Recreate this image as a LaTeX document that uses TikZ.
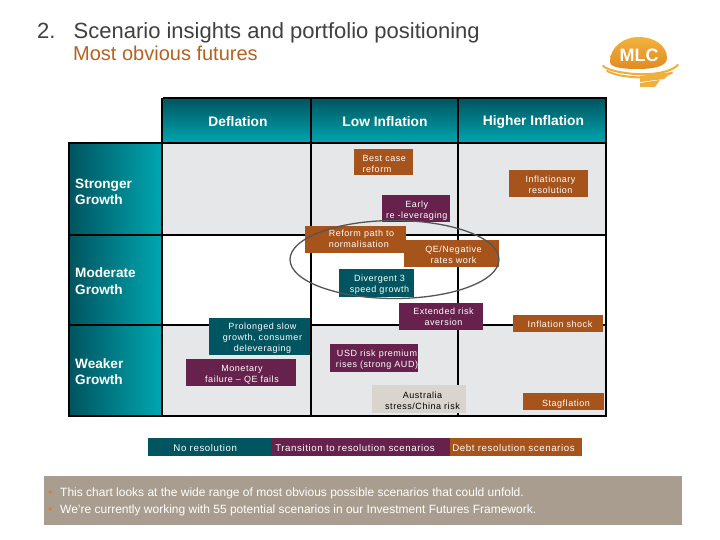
\documentclass[tikz,border=0pt]{standalone}
\usepackage{fontspec}
\setmainfont{Liberation Sans}
\newfontfamily\boxfont[LetterSpace=6]{Liberation Sans}
\usetikzlibrary{calc,shapes.geometric}
\definecolor{brownbox}{HTML}{A6541B}
\definecolor{plumbox}{HTML}{66214D}
\definecolor{tealbox}{HTML}{005560}
\definecolor{greybox}{HTML}{D9D5CE}
\definecolor{cellgrey}{HTML}{E6E7E8}
\definecolor{foot}{HTML}{A89D8E}
\definecolor{tealdark}{HTML}{00545F}
\definecolor{teallight}{HTML}{00A7B0}
\definecolor{titlecol}{HTML}{404040}
\definecolor{subcol}{HTML}{B5621F}
\definecolor{bulcol}{HTML}{E87722}
\definecolor{ringcol}{HTML}{555555}
\definecolor{logotop}{HTML}{F2B33D}
\definecolor{logobot}{HTML}{E08A22}
\definecolor{logoband}{HTML}{F0AE3C}
\tikzset{
  x=1pt,y=-1pt,
  cellbox/.style={inner sep=0pt,outer sep=0pt},
  scen/.style={inner sep=0pt,outer sep=0pt,text=white,align=center,font=\boxfont\fontsize{9}{11}\selectfont},
  legendbox/.style={scen,font=\boxfont\fontsize{9.7}{11}\selectfont},
  brown/.style={scen,fill=brownbox},
  plum/.style={scen,fill=plumbox},
  tealb/.style={scen,fill=tealbox},
  greyb/.style={scen,fill=greybox,text=black},
  headtext/.style={inner sep=0pt,text=white,font=\bfseries\fontsize{13.8}{16}\selectfont},
  rowtext/.style={inner sep=0pt,text=white,align=left,anchor=west,font=\bfseries\fontsize{13.6}{16.5}\selectfont},
  grid line/.style={black,line width=2pt},
  logoswirl/.style={draw=logoband,line cap=round},
}
% name, x1, y1, x2, y2, style, text
\newcommand{\rbox}[7]{%
  \pgfmathsetmacro{\bw}{#4-#2}\pgfmathsetmacro{\bh}{#5-#3}%
  \pgfmathsetmacro{\bx}{(#4+#2)/2}\pgfmathsetmacro{\by}{(#5+#3)/2}%
  \node[#6,minimum width=\bw pt,minimum height=\bh pt] (#1) at (\bx,\by) {#7};}
% name, x1, y1, x2, y2, style, dx, dy, text
\newcommand{\scbox}[9]{%
  \rbox{#1}{#2}{#3}{#4}{#5}{#6}{}%
  \node[#6,fill=none] (#1-text) at ($(#1.center)+(#7,#8)$) {#9};}
\begin{document}
\begin{tikzpicture}
\useasboundingbox (0,0) rectangle (720,540);
\fill[white] (0,0) rectangle (720,540);
% titles
\node[anchor=base west,inner sep=0pt,text=titlecol,font=\fontsize{22}{24}\selectfont] (num) at (37,39) {2.};
\node[anchor=base west,inner sep=0pt,text=titlecol,font=\fontsize{22}{24}\selectfont] (title) at (73.5,39) {Scenario insights and portfolio positioning};
\node[anchor=base west,inner sep=0pt,text=subcol,font=\fontsize{20}{22}\selectfont] (sub) at (73,61) {Most obvious futures};
% logo
\draw[logoswirl,line width=2pt] (603,66) .. controls (612,74) and (662,80) .. (678,65);
\draw[logoswirl,line width=2pt] (607,71) .. controls (620,78) and (650,80) .. (672,73);
\fill[logoband] (640,76) -- (672,72) -- (664,79) -- (640,82) -- cycle;
\fill[logoband] (640,83) -- (660,80) -- (655,87) -- (640,87) -- cycle;
\shade[top color=logotop,bottom color=logobot] (610,62) .. controls (610,46) and (625,37) .. (638,37) .. controls (655,37) and (667,46) .. (667,58) .. controls (667,66) and (655,69) .. (638,69) .. controls (625,69) and (610,68) .. (610,62) -- cycle;
\node[inner sep=0pt,text=white,font=\bfseries\fontsize{18}{18}\selectfont] (logo) at (639,55) {MLC};
% grid cells
\rbox{h1}{163}{98}{311}{143.5}{cellbox,top color=tealdark,bottom color=teallight}{}
\rbox{h2}{311}{98}{458}{143.5}{cellbox,top color=tealdark,bottom color=teallight}{}
\rbox{h3}{458}{98}{606}{143.5}{cellbox,top color=tealdark,bottom color=teallight}{}
\rbox{r1}{69}{143.5}{162}{234.5}{cellbox,left color=tealdark,right color=teallight}{}
\rbox{r2}{69}{234.5}{162}{325}{cellbox,left color=tealdark,right color=teallight}{}
\rbox{r3}{69}{325}{162}{415.5}{cellbox,left color=tealdark,right color=teallight}{}
\rbox{c11}{162}{143.5}{310}{234.5}{cellbox,fill=cellgrey}{}
\rbox{c12}{310}{143.5}{458}{234.5}{cellbox,fill=cellgrey}{}
\rbox{c13}{458}{143.5}{606}{234.5}{cellbox,fill=cellgrey}{}
\rbox{c21}{162}{234.5}{310}{325}{cellbox,fill=white}{}
\rbox{c22}{310}{234.5}{458}{325}{cellbox,fill=white}{}
\rbox{c23}{458}{234.5}{606}{325}{cellbox,fill=white}{}
\rbox{c31}{162}{325}{310}{415.5}{cellbox,fill=cellgrey}{}
\rbox{c32}{310}{325}{458}{415.5}{cellbox,fill=cellgrey}{}
\rbox{c33}{458}{325}{606}{415.5}{cellbox,fill=cellgrey}{}
% grid lines
\draw[grid line] (163,98) -- (606,98) -- (606,415.5) -- (69,415.5) -- (69,143.5) -- (606,143.5);
\draw[grid line] (69,234.5) -- (606,234.5);
\draw[grid line] (69,325) -- (606,325);
\draw[grid line] (162,98) -- (162,415.5);
\draw[grid line] (310.5,98) -- (310.5,415.5);
\draw[grid line] (458,98) -- (458,415.5);
% headings
\node[headtext] (t1) at (238,122) {Deflation};
\node[headtext] (t2) at (385,122) {Low Inflation};
\node[headtext] (t3) at (533.5,122) {Higher Inflation};
\node[rowtext] (s1) at (75,192) {Stronger\\Growth};
\node[rowtext] (s2) at (75,281) {Moderate\\Growth};
\node[rowtext] (s3) at (75,371.5) {Weaker\\Growth};
% scenario boxes
\scbox{best}{353.5}{149}{413}{175}{brown,align=left}{1}{2}{Best case\\reform}
\scbox{infl}{509}{170}{588}{197}{brown}{2}{1}{Inflationary\\resolution}
\scbox{early}{381.5}{195}{450}{222.5}{plum}{1}{2}{Early\\re -leveraging}
\scbox{reform}{305}{226}{406}{252.5}{brown,align=left}{6}{0}{Reform  path to\\normalisation}
\scbox{qe}{404}{240}{499}{266.5}{brown}{2}{1.5}{QE/Negative\\rates work}
\scbox{div}{339}{269}{414}{296.5}{tealb}{3}{2}{Divergent 3\\speed growth}
\scbox{ext}{399}{303}{483}{330}{plum}{2.5}{0.5}{Extended risk\\aversion}
\scbox{shock}{513}{315}{603}{331.5}{brown}{2}{1}{Inflation shock}
\scbox{prol}{209}{318}{310}{355}{tealb}{3}{2}{Prolonged slow\\growth, consumer\\deleveraging}
\scbox{mon}{186}{359}{296}{386}{plum}{1}{2.5}{Monetary\\failure – QE fails}
\scbox{usd}{330}{344}{418}{372}{plum}{3}{2}{USD risk premium\\rises (strong AUD)}
\scbox{aus}{372}{385}{466}{413}{greyb}{3.5}{1.5}{Australia\\stress/China risk}
\scbox{stag}{523}{393}{604}{410}{brown}{2.5}{2.5}{Stagflation}
% ring
\node[draw=ringcol,line width=1.3pt,ellipse,minimum width=209pt,minimum height=78pt,inner sep=0pt] (ring) at (394.5,259.5) {};
% legend
\scbox{l1}{147.5}{438}{271}{456}{legendbox,fill=tealbox}{-4}{1.5}{No resolution}
\scbox{l2}{271}{438}{450}{456}{legendbox,fill=plumbox}{-5.5}{1.5}{Transition to resolution scenarios}
\scbox{l3}{450}{438}{582}{456}{legendbox,fill=brownbox}{-2.5}{1.5}{Debt resolution scenarios}
% footer
\rbox{footbar}{44}{476}{682}{525}{cellbox,fill=foot}{}
\node[anchor=west,inner sep=0pt,text=white,align=left,font=\fontsize{12}{17}\selectfont] (foottext) at (48,502)
 {\makebox[12pt][l]{\textcolor{bulcol}{\textbullet}}This chart looks at the wide range of most obvious possible scenarios that could unfold.\\
  \makebox[12pt][l]{\textcolor{bulcol}{\textbullet}}We're currently working with 55 potential scenarios in our Investment Futures Framework.};
\end{tikzpicture}
\end{document}
